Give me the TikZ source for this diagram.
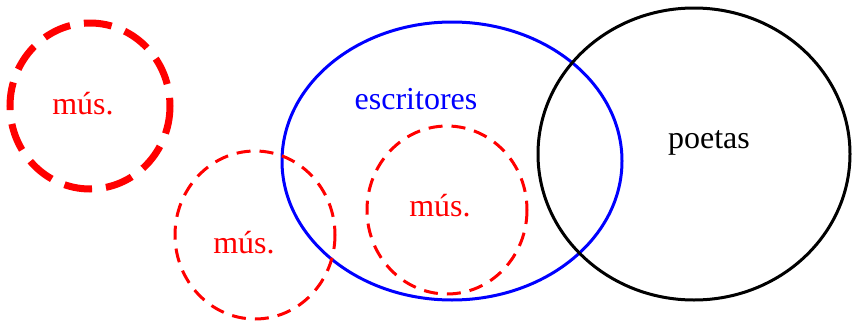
\documentclass[tikz,border=0pt]{standalone}
\usepackage{fontspec}
\setmainfont{Liberation Serif}
\begin{document}
\begin{tikzpicture}[x=0.5pt, y=-0.5pt,
    setbox/.style={line width=1.5pt},
    musbox/.style={red, line width=1.5pt, dash pattern=on 7pt off 4.5pt},
    musthick/.style={red, line width=3.5pt, dash pattern=on 14pt off 7pt},
    lbl/.style={anchor=base, inner sep=0pt, font=\fontsize{16}{19}\selectfont}]
    \useasboundingbox (0,0) rectangle (852,322);

    % escritores (blue)
    \draw[setbox, blue] (452,161) ellipse [x radius=170, y radius=139];
    \node[lbl, blue] (escritores) at (416,109) {escritores};

    % poetas (black)
    \draw[setbox, black] (694,154) ellipse [x radius=156, y radius=146];
    \node[lbl] (poetas) at (709,148) {poetas};

    % mús. outside (thick)
    \draw[musthick] (90,106) ellipse [x radius=80, y radius=83];
    \node[lbl, red] (mus1) at (83,114) {mús.};

    % mús. overlapping
    \draw[musbox] (255,235) ellipse [x radius=80, y radius=84];
    \node[lbl, red] (mus2) at (244,253) {mús.};

    % mús. inside
    \draw[musbox] (447,210) ellipse [x radius=80, y radius=84];
    \node[lbl, red] (mus3) at (440,216) {mús.};

\end{tikzpicture}
\end{document}
